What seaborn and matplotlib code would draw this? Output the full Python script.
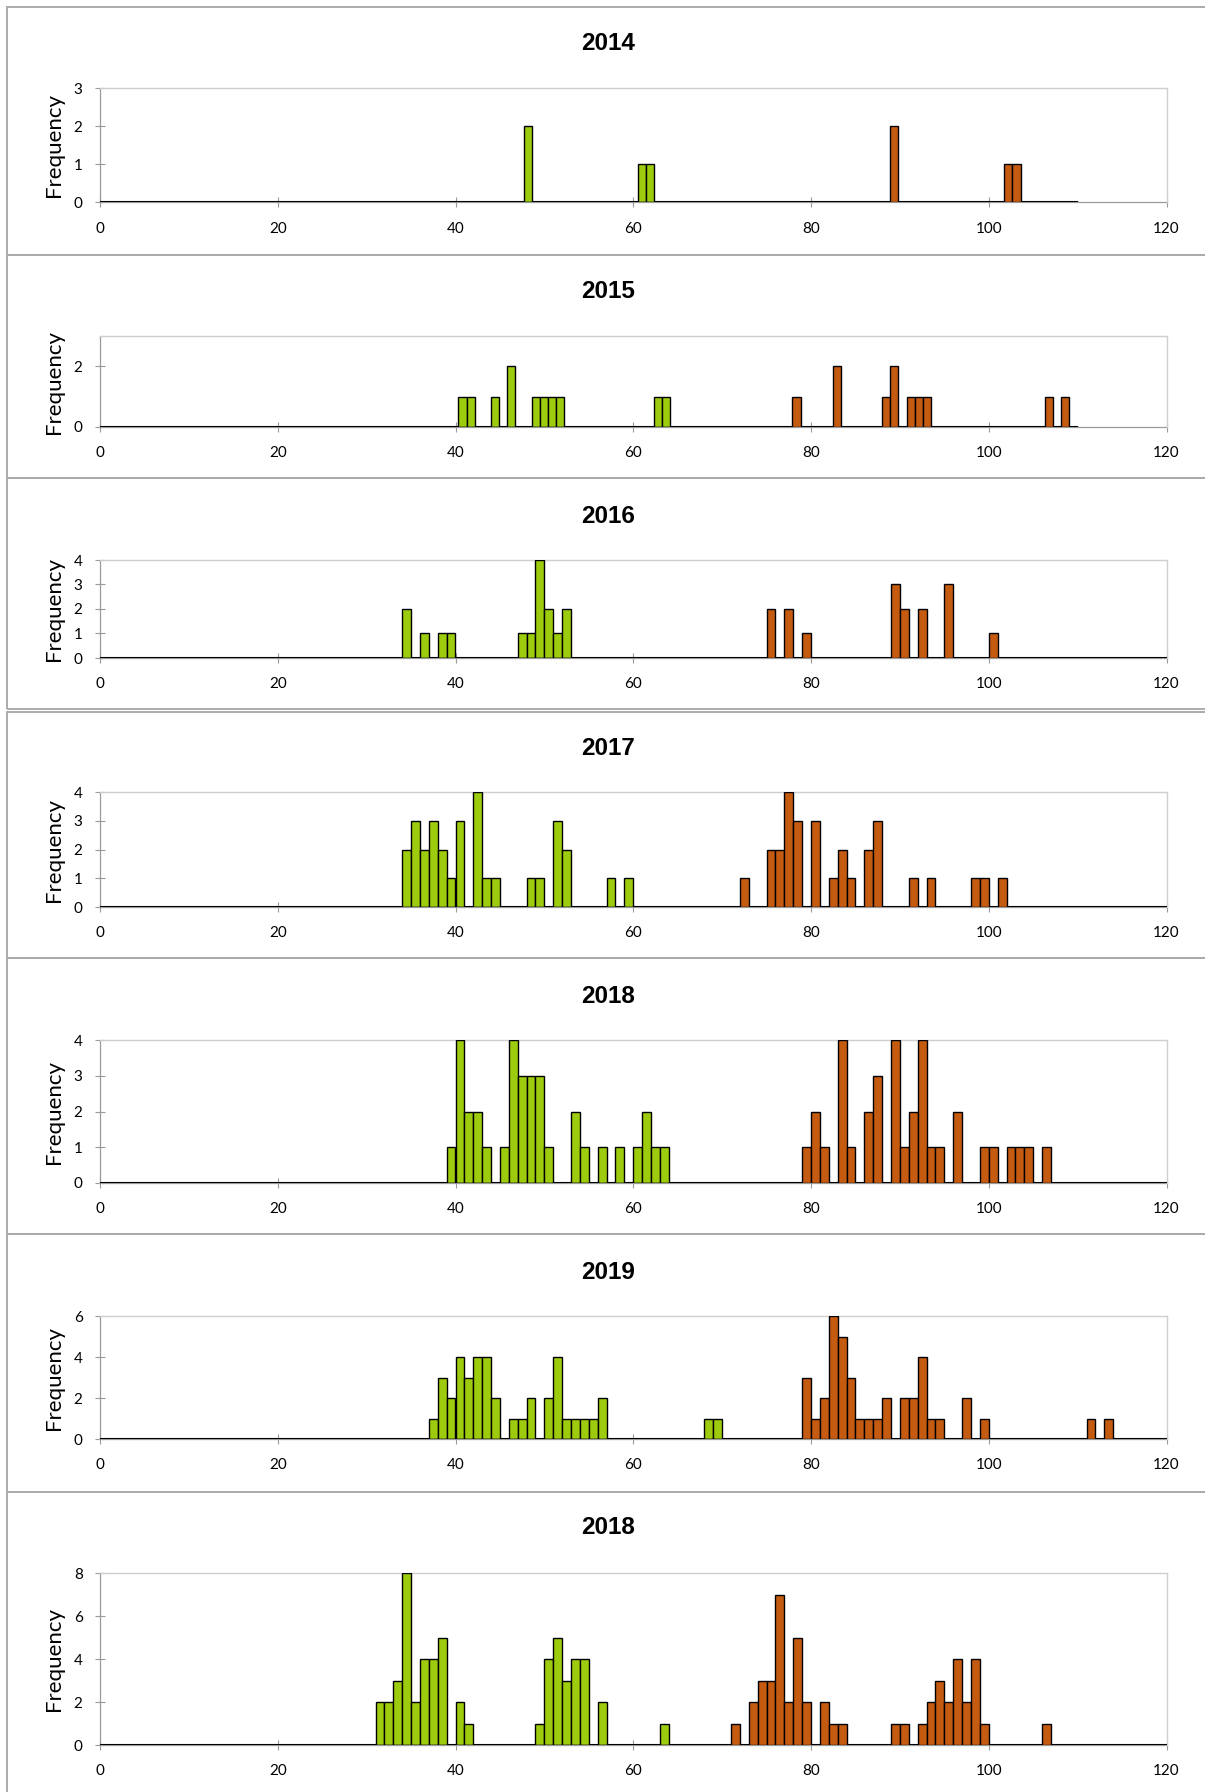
import numpy as np
import pandas as pd
import matplotlib.pyplot as plt
import seaborn as sns
from matplotlib.patches import Rectangle

# [Data]==========================================================================================
# panel titles as they appear (the last chart is labelled 2018 again)
titles = ["2014", "2015", "2016", "2017", "2018", "2019", "2018"]

# bin start (1-wide bins) and frequency, green = lower group, orange = upper group
g2014_x = [52, 66, 67]
g2014_n = [2, 1, 1]
o2014_x = [97, 111, 112]
o2014_n = [2, 1, 1]

g2015_x = [44, 45, 48, 50, 53, 54, 55, 56, 68, 69]
g2015_n = [1, 1, 1, 2, 1, 1, 1, 1, 1, 1]
o2015_x = [85, 90, 96, 97, 99, 100, 101, 116, 118]
o2015_n = [1, 2, 1, 2, 1, 1, 1, 1, 1]

g2016_x = [34, 36, 38, 39, 47, 48, 49, 50, 51, 52]
g2016_n = [2, 1, 1, 1, 1, 1, 4, 2, 1, 2]
o2016_x = [75, 77, 79, 89, 90, 92, 95, 100]
o2016_n = [2, 2, 1, 3, 2, 2, 3, 1]

g2017_x = [34, 35, 36, 37, 38, 39, 40, 42, 43, 44, 48, 49, 51, 52, 57, 59]
g2017_n = [2, 3, 2, 3, 2, 1, 3, 4, 1, 1, 1, 1, 3, 2, 1, 1]
o2017_x = [72, 75, 76, 77, 78, 80, 82, 83, 84, 86, 87, 91, 93, 98, 99, 101]
o2017_n = [1, 2, 2, 4, 3, 3, 1, 2, 1, 2, 3, 1, 1, 1, 1, 1]

g2018_x = [39, 40, 41, 42, 43, 45, 46, 47, 48, 49, 50, 53, 54, 56, 58, 60, 61, 62, 63]
g2018_n = [1, 4, 2, 2, 1, 1, 4, 3, 3, 3, 1, 2, 1, 1, 1, 1, 2, 1, 1]
o2018_x = [79, 80, 81, 83, 84, 86, 87, 89, 90, 91, 92, 93, 94, 96, 99, 100, 102, 103, 104, 106]
o2018_n = [1, 2, 1, 4, 1, 2, 3, 4, 1, 2, 4, 1, 1, 2, 1, 1, 1, 1, 1, 1]

g2019_x = [37, 38, 39, 40, 41, 42, 43, 44, 46, 47, 48, 50, 51, 52, 53, 54, 55, 56, 68, 69]
g2019_n = [1, 3, 2, 4, 3, 4, 4, 2, 1, 1, 2, 2, 4, 1, 1, 1, 1, 2, 1, 1]
o2019_x = [79, 80, 81, 82, 83, 84, 85, 86, 87, 88, 90, 91, 92, 93, 94, 97, 99, 111, 113]
o2019_n = [3, 1, 2, 6, 5, 3, 1, 1, 1, 2, 2, 2, 4, 1, 1, 2, 1, 1, 1]

g2018b_x = [31, 32, 33, 34, 35, 36, 37, 38, 40, 41, 49, 50, 51, 52, 53, 54, 56, 63]
g2018b_n = [2, 2, 3, 8, 2, 4, 4, 5, 2, 1, 1, 4, 5, 3, 4, 4, 2, 1]
o2018b_x = [71, 73, 74, 75, 76, 77, 78, 79, 81, 82, 83, 89, 90, 92, 93, 94, 95, 96, 97, 98, 99, 106]
o2018b_n = [1, 2, 3, 3, 7, 2, 5, 2, 2, 1, 1, 1, 1, 1, 2, 3, 2, 4, 2, 4, 1, 1]

# the 2014/2015 charts squeeze their 120 bins into 0-110 on the axis
bin_span = [110, 110, 120, 120, 120, 120, 120]
y_max = [3, 3, 4, 4, 4, 6, 8]
y_step = [1, 2, 1, 1, 1, 2, 2]

green_series = [(g2014_x, g2014_n), (g2015_x, g2015_n), (g2016_x, g2016_n), (g2017_x, g2017_n),
                (g2018_x, g2018_n), (g2019_x, g2019_n), (g2018b_x, g2018b_n)]
orange_series = [(o2014_x, o2014_n), (o2015_x, o2015_n), (o2016_x, o2016_n), (o2017_x, o2017_n),
                 (o2018_x, o2018_n), (o2019_x, o2019_n), (o2018b_x, o2018b_n)]

# [Layout]========================================================================================
W, H = 1205, 1792
GREEN = "#9DCB0E"
ORANGE = "#C55A11"
FRAME = "#ABABAB"
LIGHT = "#CFCFCF"
AXGREY = "#9A9A9A"

# pixel layout of each chart: frame top/bottom, plot top/bottom, title y
frames = [(7, 255), (255, 478), (478, 709), (712, 958), (958, 1234), (1234, 1492), (1492, 1800)]
plots = [(88, 202.5), (336, 427), (560, 658), (792, 907), (1040, 1183), (1316, 1439), (1573, 1745)]
title_y = [44, 292, 516, 748, 996, 1272, 1528]
x_left, x_right = 100, 1166.5

plt.rcParams["font.family"] = ["Lato", "DejaVu Sans"]

fig = plt.figure(figsize=(W / 100, H / 100), dpi=100)

for i in range(7):
    # chart frame
    ft, fb = frames[i]
    fig.patches.append(Rectangle((7 / W, 1 - fb / H), (1215 - 7) / W, (fb - ft) / H,
                                 transform=fig.transFigure, fill=False,
                                 edgecolor=FRAME, linewidth=1.4))
    fig.text(608 / W, 1 - title_y[i] / H, titles[i], ha="center", va="center",
             fontsize=17.5, fontweight="bold", family=["Liberation Sans", "DejaVu Sans"])

    pt, pb = plots[i]
    ax = fig.add_axes([x_left / W, 1 - pb / H, (x_right - x_left) / W, (pb - pt) / H])

    edges = np.linspace(0, bin_span[i], 121)
    half = (edges[1] - edges[0]) / 2
    for (bx, bn), col in [(green_series[i], GREEN), (orange_series[i], ORANGE)]:
        df = pd.DataFrame({"score": edges[np.array(bx)] + half, "freq": bn})
        sns.histplot(data=df, x="score", weights="freq", bins=edges.tolist(), color=col,
                     edgecolor="black", linewidth=1.0, alpha=1, ax=ax, zorder=3)

    # outline of the empty bins: black along the whole bin range
    ax.hlines(0, edges[0], edges[-1], color="black", linewidth=1.5, zorder=2.8)

    ax.set_xlim(0, 120)
    ax.set_ylim(0, y_max[i])
    ax.set_xticks(np.arange(0, 121, 20))
    ax.set_yticks(np.arange(0, y_max[i] + 0.1, y_step[i]))
    ax.tick_params(axis="x", direction="inout", length=7.5, width=0.8, color=AXGREY,
                   labelsize=11, pad=10)
    ax.tick_params(axis="y", direction="inout", length=7, width=0.8, color=AXGREY,
                   labelsize=11, pad=9)
    for s in ["top", "right"]:
        ax.spines[s].set_color(LIGHT)
        ax.spines[s].set_linewidth(1.0)
    ax.spines["left"].set_color(AXGREY)
    ax.spines["left"].set_linewidth(0.9)
    ax.spines["bottom"].set_color(AXGREY)
    ax.spines["bottom"].set_linewidth(0.9)
    ax.spines["bottom"].set_zorder(1)
    ax.set_xlabel("")
    ax.set_ylabel("Frequency", fontsize=16)
    ax.yaxis.set_label_coords(-0.034, 0.5)

fig.savefig("out.png", dpi=100)
